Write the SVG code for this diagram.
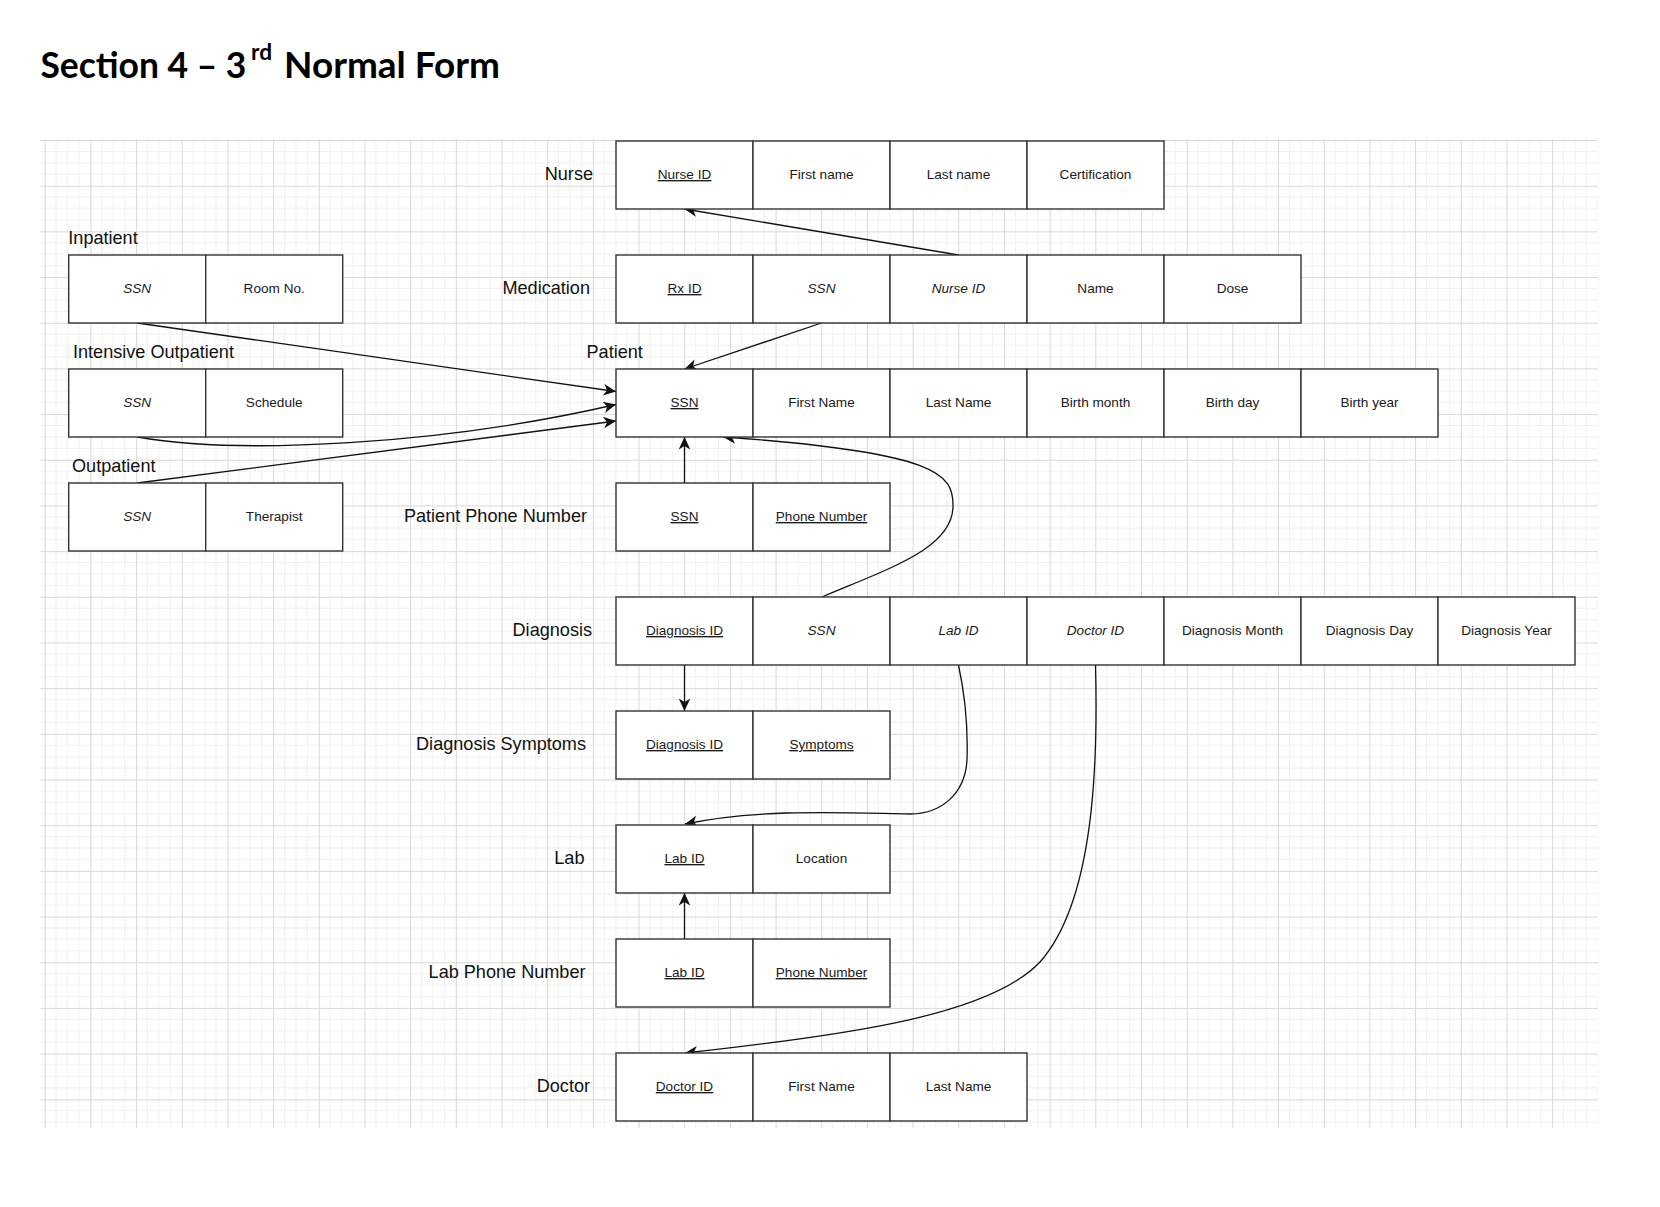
<svg xmlns="http://www.w3.org/2000/svg" width="1660" height="1207" viewBox="0 0 1660 1207">
<style>
  .cell { fill: #ffffff; stroke: #333333; stroke-width: 1.4; }
  .ct { font-family: "Liberation Sans", Arial, sans-serif; font-size: 13.6px; fill: #1a1a1a; text-anchor: middle; }
  .pk { text-decoration: underline; }
  .fk { font-style: italic; }
  .lbl { font-family: "Liberation Sans", Arial, sans-serif; font-size: 18.1px; fill: #111111; }
  .rl { text-anchor: end; }
  .edge { fill: none; stroke: #111111; stroke-width: 1.3; marker-end: url(#arr); }
  .title { font-family: Lato, "Open Sans", sans-serif; font-weight: 700; fill: #000000; }
</style>
<defs>
  <pattern id="grid" x="44.7" y="140" width="45.68" height="45.68" patternUnits="userSpaceOnUse">
    <path d="M11.42 0V45.68M22.84 0V45.68M34.26 0V45.68M0 11.42H45.68M0 22.84H45.68M0 34.26H45.68" stroke="#f0f0f0" stroke-width="1" fill="none"/>
    <path d="M0.5 0V45.68M0 0.5H45.68" stroke="#d8d8d8" stroke-width="1" fill="none"/>
  </pattern>
  <marker id="arr" viewBox="-13 -7 14 14" refX="0" refY="0" markerWidth="14" markerHeight="14" markerUnits="userSpaceOnUse" orient="auto">
    <path d="M-12.5,-5.8 L0,0 L-12.5,5.8 L-9,0 Z" fill="#111111"/>
  </marker>
</defs>

<rect x="0" y="0" width="1660" height="1207" fill="#ffffff"/>

<text class="title" font-size="36"><tspan x="40.4" y="77.7" textLength="206" lengthAdjust="spacingAndGlyphs">Section 4 – 3</tspan><tspan x="251" y="60" font-size="23" textLength="21" lengthAdjust="spacingAndGlyphs">rd</tspan><tspan x="284" y="77.7" textLength="216" lengthAdjust="spacingAndGlyphs">Normal Form</tspan></text>

<rect x="40" y="139.5" width="1558" height="988.5" fill="url(#grid)"/>

<g id="connectors">
  <path class="edge" d="M958.5,255 L684.5,209"/>
  <path class="edge" d="M821.5,323 L684.5,369"/>
  <path class="edge" d="M137.2,323 L616,391.5"/>
  <path class="edge" d="M137.2,437 C240,455 440,445 616,404.5"/>
  <path class="edge" d="M137.2,483 L616,421"/>
  <path class="edge" d="M684.5,483 L684.5,437"/>
  <path class="edge" d="M822,597 C890,568 954,548 953,505 C953,475 940,452 723,437"/>
  <path class="edge" d="M684.5,665 L684.5,711"/>
  <path class="edge" d="M958.5,665 C965,695 968,730 967,760 C965,795 940,814 910,814 C850,813 760,808 685,824"/>
  <path class="edge" d="M684.5,939 L684.5,893"/>
  <path class="edge" d="M1095.5,665 C1098,760 1095,900 1040,962 C990,1015 850,1035 685,1053"/>
</g>

<g id="nurse">
  <text class="lbl rl" x="593" y="180">Nurse</text>
  <rect class="cell" x="616" y="141" width="137" height="68"/>
  <rect class="cell" x="753" y="141" width="137" height="68"/>
  <rect class="cell" x="890" y="141" width="137" height="68"/>
  <rect class="cell" x="1027" y="141" width="137" height="68"/>
  <text class="ct pk" x="684.5" y="179">Nurse ID</text>
  <text class="ct" x="821.5" y="179">First name</text>
  <text class="ct" x="958.5" y="179">Last name</text>
  <text class="ct" x="1095.5" y="179">Certification</text>
</g>

<g id="medication">
  <text class="lbl rl" x="590" y="294">Medication</text>
  <rect class="cell" x="616" y="255" width="137" height="68"/>
  <rect class="cell" x="753" y="255" width="137" height="68"/>
  <rect class="cell" x="890" y="255" width="137" height="68"/>
  <rect class="cell" x="1027" y="255" width="137" height="68"/>
  <rect class="cell" x="1164" y="255" width="137" height="68"/>
  <text class="ct pk" x="684.5" y="293">Rx ID</text>
  <text class="ct fk" x="821.5" y="293">SSN</text>
  <text class="ct fk" x="958.5" y="293">Nurse ID</text>
  <text class="ct" x="1095.5" y="293">Name</text>
  <text class="ct" x="1232.5" y="293">Dose</text>
</g>

<g id="patient">
  <text class="lbl" x="586.5" y="357.5">Patient</text>
  <rect class="cell" x="616" y="369" width="137" height="68"/>
  <rect class="cell" x="753" y="369" width="137" height="68"/>
  <rect class="cell" x="890" y="369" width="137" height="68"/>
  <rect class="cell" x="1027" y="369" width="137" height="68"/>
  <rect class="cell" x="1164" y="369" width="137" height="68"/>
  <rect class="cell" x="1301" y="369" width="137" height="68"/>
  <text class="ct pk" x="684.5" y="407">SSN</text>
  <text class="ct" x="821.5" y="407">First Name</text>
  <text class="ct" x="958.5" y="407">Last Name</text>
  <text class="ct" x="1095.5" y="407">Birth month</text>
  <text class="ct" x="1232.5" y="407">Birth day</text>
  <text class="ct" x="1369.5" y="407">Birth year</text>
</g>

<g id="inpatient">
  <text class="lbl" x="68.3" y="243.5">Inpatient</text>
  <rect class="cell" x="68.7" y="255" width="137" height="68"/>
  <rect class="cell" x="205.7" y="255" width="137" height="68"/>
  <text class="ct fk" x="137.2" y="293">SSN</text>
  <text class="ct" x="274.2" y="293">Room No.</text>
</g>

<g id="intensive-outpatient">
  <text class="lbl" x="73" y="357.5">Intensive Outpatient</text>
  <rect class="cell" x="68.7" y="369" width="137" height="68"/>
  <rect class="cell" x="205.7" y="369" width="137" height="68"/>
  <text class="ct fk" x="137.2" y="407">SSN</text>
  <text class="ct" x="274.2" y="407">Schedule</text>
</g>

<g id="outpatient">
  <text class="lbl" x="72" y="471.5">Outpatient</text>
  <rect class="cell" x="68.7" y="483" width="137" height="68"/>
  <rect class="cell" x="205.7" y="483" width="137" height="68"/>
  <text class="ct fk" x="137.2" y="521">SSN</text>
  <text class="ct" x="274.2" y="521">Therapist</text>
</g>

<g id="patient-phone-number">
  <text class="lbl rl" x="587" y="522">Patient Phone Number</text>
  <rect class="cell" x="616" y="483" width="137" height="68"/>
  <rect class="cell" x="753" y="483" width="137" height="68"/>
  <text class="ct pk" x="684.5" y="521">SSN</text>
  <text class="ct pk" x="821.5" y="521">Phone Number</text>
</g>

<g id="diagnosis">
  <text class="lbl rl" x="592" y="636">Diagnosis</text>
  <rect class="cell" x="616" y="597" width="137" height="68"/>
  <rect class="cell" x="753" y="597" width="137" height="68"/>
  <rect class="cell" x="890" y="597" width="137" height="68"/>
  <rect class="cell" x="1027" y="597" width="137" height="68"/>
  <rect class="cell" x="1164" y="597" width="137" height="68"/>
  <rect class="cell" x="1301" y="597" width="137" height="68"/>
  <rect class="cell" x="1438" y="597" width="137" height="68"/>
  <text class="ct pk" x="684.5" y="635">Diagnosis ID</text>
  <text class="ct fk" x="821.5" y="635">SSN</text>
  <text class="ct fk" x="958.5" y="635">Lab ID</text>
  <text class="ct fk" x="1095.5" y="635">Doctor ID</text>
  <text class="ct" x="1232.5" y="635">Diagnosis Month</text>
  <text class="ct" x="1369.5" y="635">Diagnosis Day</text>
  <text class="ct" x="1506.5" y="635">Diagnosis Year</text>
</g>

<g id="diagnosis-symptoms">
  <text class="lbl rl" x="586" y="750">Diagnosis Symptoms</text>
  <rect class="cell" x="616" y="711" width="137" height="68"/>
  <rect class="cell" x="753" y="711" width="137" height="68"/>
  <text class="ct pk" x="684.5" y="749">Diagnosis ID</text>
  <text class="ct pk" x="821.5" y="749">Symptoms</text>
</g>

<g id="lab">
  <text class="lbl rl" x="584.5" y="864">Lab</text>
  <rect class="cell" x="616" y="825" width="137" height="68"/>
  <rect class="cell" x="753" y="825" width="137" height="68"/>
  <text class="ct pk" x="684.5" y="863">Lab ID</text>
  <text class="ct" x="821.5" y="863">Location</text>
</g>

<g id="lab-phone-number">
  <text class="lbl rl" x="585.5" y="978">Lab Phone Number</text>
  <rect class="cell" x="616" y="939" width="137" height="68"/>
  <rect class="cell" x="753" y="939" width="137" height="68"/>
  <text class="ct pk" x="684.5" y="977">Lab ID</text>
  <text class="ct pk" x="821.5" y="977">Phone Number</text>
</g>

<g id="doctor">
  <text class="lbl rl" x="590" y="1092">Doctor</text>
  <rect class="cell" x="616" y="1053" width="137" height="68"/>
  <rect class="cell" x="753" y="1053" width="137" height="68"/>
  <rect class="cell" x="890" y="1053" width="137" height="68"/>
  <text class="ct pk" x="684.5" y="1091">Doctor ID</text>
  <text class="ct" x="821.5" y="1091">First Name</text>
  <text class="ct" x="958.5" y="1091">Last Name</text>
</g>
</svg>
